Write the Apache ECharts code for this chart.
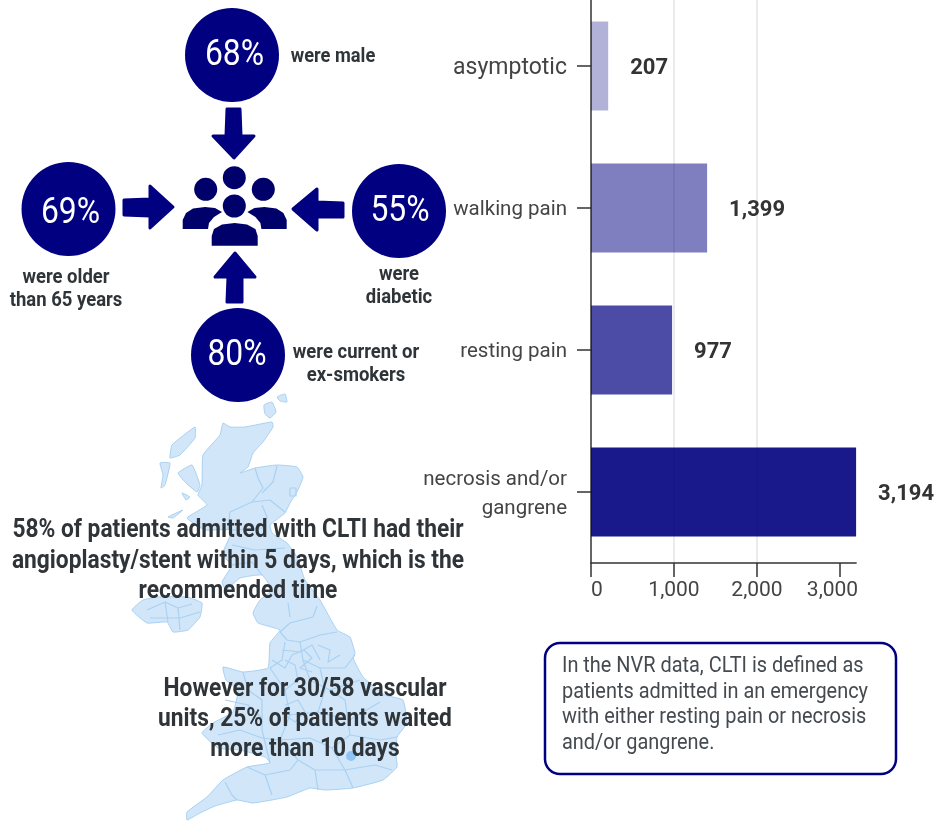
<!DOCTYPE html>
<html>
<head>
<meta charset="utf-8">
<title>Patient characteristics</title>
<script src="https://cdn.jsdelivr.net/npm/echarts@6/dist/echarts.min.js"></script>
<style>
  html, body { margin: 0; padding: 0; background: #fff; }
  #chart { width: 937px; height: 821px; }
</style>
</head>
<body>
<div id="chart"></div>
<script>
// chart values
const categories = ['asymptotic', 'walking pain', 'resting pain', 'necrosis and/or\ngangrene'];
const patientCounts = [207, 1399, 977, 3194];
const tickValues = [0, 1000, 2000, 3000];

const statPercents = ['68%', '69%', '55%', '80%'];

const NAVY = '#000080';
const INK = '#2f3438';
const FONT = 'Roboto, sans-serif';
const barColors = ['rgba(0,0,128,0.3)', 'rgba(0,0,128,0.5)', 'rgba(0,0,128,0.7)', 'rgba(0,0,128,0.9)'];

const fmt = (v) => v.toLocaleString('en-GB');

// text helper, squeezed sideways because Roboto Condensed is not available
function txt(text, x, y, size, weight, color, squeeze, align, lineHeight) {
    return {
        type: 'text', x: x, y: y, scaleX: squeeze, z: 20,
        style: {
            text: text, x: 0, y: 0, fill: color, font: weight + ' ' + size + 'px ' + FONT,
            align: align || 'center', verticalAlign: 'middle', lineHeight: lineHeight
        }
    };
}

function disc(cx, cy) {
    return { type: 'circle', z: 10, shape: { cx: cx, cy: cy, r: 47 }, style: { fill: NAVY } };
}

function arrow(points) {
    return {
        type: 'polygon', z: 10, shape: { points: points },
        style: { fill: NAVY, stroke: NAVY, lineWidth: 3, lineJoin: 'round' }
    };
}

function head(cx, cy) {
    return { type: 'circle', z: 10, shape: { cx: cx, cy: cy, r: 11.5 }, style: { fill: '#00006a' } };
}

function body(points) {
    return { type: 'polygon', z: 10, shape: { points: points }, style: { fill: '#00006a' } };
}

// uk map backdrop, traced by hand
const MAP_FILL = '#d2e6f9';
const MAP_LINE = '#a9d1f2';
function land(points) {
    return {
        type: 'polygon', z: 1, shape: { points: points, smooth: 0.12 },
        style: { fill: MAP_FILL, stroke: MAP_LINE, lineWidth: 1, lineJoin: 'round' }
    };
}
function border(points) {
    return {
        type: 'polyline', z: 2, shape: { points: points },
        style: { fill: null, stroke: MAP_LINE, lineWidth: 1.2, lineJoin: 'round' }
    };
}

const mapShapes = [
    land([[223, 423], [230, 427], [245, 427], [272, 422], [273, 427], [263, 442], [253, 453], [248, 467], [240, 473],
        [255, 468], [277, 465], [297, 467], [303, 477], [298, 490], [290, 503], [285, 513], [270, 525], [272, 533],
        [287, 543], [297, 557], [305, 580], [320, 600], [337, 630], [350, 637], [355, 653], [353, 658], [363, 677],
        [385, 695], [403, 700], [407, 723], [397, 737], [396, 755], [397, 767], [383, 780], [353, 788], [325, 790],
        [310, 788], [287, 797], [253, 803], [237, 800], [215, 806], [200, 813], [187, 820], [187, 812], [207, 797],
        [223, 780], [247, 767], [270, 763], [265, 757], [240, 750], [218, 748], [202, 733], [213, 723], [233, 712],
        [238, 690], [226, 680], [223, 667], [243, 672], [268, 668], [270, 643], [280, 630], [258, 623], [253, 613],
        [260, 600], [272, 590], [262, 575], [240, 578], [226, 590], [222, 582], [232, 565], [222, 555], [232, 530],
        [205, 530], [187, 518], [207, 505], [198, 495], [202, 485], [203, 455], [220, 435]]),
    land([[132, 610], [143, 600], [157, 597], [187, 597], [202, 603], [200, 617], [188, 630], [173, 632], [167, 622], [147, 623]]),
    land([[195, 427], [172, 445], [170, 458], [180, 455], [195, 438]]),
    land([[160, 463], [170, 463], [165, 485], [161, 488], [163, 475]]),
    land([[178, 473], [192, 465], [200, 485], [197, 492], [185, 482]]),
    land([[182, 493], [190, 497], [186, 500]]),
    land([[168, 517], [183, 510], [173, 518]]),
    land([[264, 405], [272, 402], [276, 412], [270, 418], [265, 414]]),
    land([[277, 397], [285, 394], [287, 402], [280, 401]]),
    // scotland
    border([[255, 468], [258, 478], [263, 488], [252, 502], [230, 512], [228, 530]]),
    border([[277, 466], [273, 482], [262, 493]]),
    border([[252, 502], [270, 500], [285, 512]]),
    border([[262, 505], [267, 517], [262, 528], [232, 530]]),
    border([[290, 488], [296, 488], [296, 496], [290, 496], [290, 488]]),
    border([[232, 545], [255, 550], [285, 548]]),
    border([[232, 565], [252, 562], [262, 575]]),
    // northern ireland
    border([[147, 610], [165, 602], [178, 608], [192, 604]]),
    border([[165, 602], [168, 622]]),
    border([[178, 608], [180, 630]]),
    border([[150, 618], [180, 618], [200, 612]]),
    // north england
    border([[280, 632], [290, 623], [313, 617], [317, 606]]),
    border([[290, 617], [288, 603]]),
    border([[280, 632], [287, 640], [300, 642], [320, 635], [337, 632]]),
    border([[300, 642], [303, 660], [320, 668], [345, 668], [355, 655]]),
    border([[285, 642], [282, 660], [270, 668]]),
    border([[282, 650], [300, 652], [312, 645], [320, 660]]),
    border([[285, 660], [295, 665], [298, 680], [285, 690], [270, 668]]),
    border([[303, 660], [310, 680], [330, 690], [360, 680]]),
    border([[320, 668], [325, 690], [318, 712]]),
    border([[272, 660], [285, 668], [292, 655], [304, 650], [312, 658], [300, 668], [312, 672]]),
    border([[318, 645], [330, 650], [328, 662], [340, 655]]),
    // wales and midlands
    border([[243, 672], [248, 690], [262, 700], [262, 730], [270, 763]]),
    border([[225, 700], [248, 705], [262, 718]]),
    border([[218, 735], [240, 730], [262, 738]]),
    border([[285, 690], [290, 715], [280, 740], [298, 760]]),
    border([[330, 690], [345, 700], [350, 735], [332, 748], [345, 770], [353, 788]]),
    border([[290, 715], [318, 712], [350, 720], [380, 702]]),
    border([[262, 738], [280, 740], [310, 738], [332, 748]]),
    border([[350, 735], [380, 740], [397, 737]]),
    border([[345, 770], [375, 765], [392, 770]]),
    border([[285, 705], [298, 700], [305, 712], [295, 722], [285, 715]]),
    // south west and south
    border([[247, 767], [265, 775], [290, 770], [298, 760], [315, 770], [345, 770]]),
    border([[225, 782], [232, 795], [237, 800]]),
    border([[265, 775], [272, 795]]),
    border([[315, 770], [318, 790]])
];

// the small dense patch over london
const londonPatch = {
    type: 'circle', z: 2, shape: { cx: 351, cy: 756, r: 5 }, style: { fill: '#8fc4f4' }
};

const people = [
    head(234.3, 177.7), head(205.7, 189.3), head(263.3, 189.3), head(234.3, 206),
    body([[182.7, 229], [182.7, 220], [186, 213], [193, 208.5], [205, 207], [215, 208], [222, 212], [214, 217], [209, 223], [208, 229]]),
    body([[286.7, 229], [286.7, 220], [283.4, 213], [276.4, 208.5], [264.4, 207], [254.4, 208], [247.4, 212], [255.4, 217], [260.4, 223], [261.4, 229]]),
    body([[211.7, 245.7], [211.7, 236], [214, 229], [222, 224.5], [234.7, 223], [247, 224.5], [255.4, 229], [257.7, 236], [257.7, 245.7]])
];

const arrows = [
    arrow([[227, 109], [240, 109], [241, 136], [254, 136], [234, 158], [213, 136], [226, 136]]),
    arrow([[124, 200], [150, 199], [150, 186], [173, 207], [150, 228], [150, 216], [124, 215]]),
    arrow([[343, 203], [317, 202], [317, 189], [293, 209], [317, 230], [317, 217], [343, 217]]),
    arrow([[227, 302], [242, 302], [242, 277], [255, 277], [235, 253], [215, 277], [228, 277]])
];

const discs = [disc(232, 55), disc(68.5, 209), disc(399, 211), disc(238, 355)];

const texts = [
    // title, cut by the top edge in the source
    txt('Patient characteristics', 420, -7, 28, 'bold', INK, 0.86),
    txt(statPercents[0], 234.5, 56, 36, 'normal', '#fff', 0.885),
    txt(statPercents[1], 70.5, 214, 36, 'normal', '#fff', 0.885),
    txt(statPercents[2], 400, 212, 36, 'normal', '#fff', 0.885),
    txt(statPercents[3], 237, 356, 36, 'normal', '#fff', 0.885),
    txt('were male', 333, 57, 21, 'bold', INK, 0.87),
    txt('were older\nthan 65 years', 66, 289, 21, 'bold', INK, 0.88, 'center', 23.5),
    txt('were\ndiabetic', 399, 286, 21, 'bold', INK, 0.88, 'center', 23.5),
    txt('were current or\nex-smokers', 356, 364, 21, 'bold', INK, 0.88, 'center', 23.5),
    txt('58% of patients admitted with CLTI had their\nangioplasty/stent within 5 days, which is the\nrecommended time',
        238, 561, 26, 'bold', INK, 0.875, 'center', 30.5),
    txt('However for 30/58 vascular\nunits, 25% of patients waited\nmore than 10 days',
        305, 719, 26, 'bold', INK, 0.875, 'center', 30),
    txt('In the NVR data, CLTI is defined as\npatients admitted in an emergency\nwith either resting pain or necrosis\nand/or gangrene.',
        562, 705, 22, 'normal', '#444a50', 0.905, 'left', 25.7)
];

const callout = {
    type: 'rect', z: 5, shape: { x: 545, y: 643, width: 351, height: 131, r: 15 },
    style: { fill: '#fff', stroke: NAVY, lineWidth: 2.5 }
};

const chart = echarts.init(document.getElementById('chart'));

chart.setOption({
    animation: false,
    backgroundColor: '#fff',
    textStyle: { fontFamily: FONT },
    grid: { left: 591, top: -5, width: 265.1, height: 568, containLabel: false, outerBoundsMode: 'none' },
    xAxis: {
        type: 'value',
        min: 0,
        max: 3194,
        axisLine: { show: true, lineStyle: { color: '#333', width: 1.5 } },
        axisTick: { show: true, customValues: tickValues, length: 14, lineStyle: { color: '#333', width: 1.5 } },
        splitLine: { show: true, showMinLine: false, showMaxLine: false, lineStyle: { color: '#e4e4e4', width: 1.5 } },
        axisLabel: {
            customValues: tickValues,
            margin: 17,
            color: '#444',
            fontSize: 21,
            hideOverlap: false,
            formatter: (v) => v === 0 ? '{first|0}' : v === 3000 ? '{last|3,000}' : '{mid|' + fmt(v) + '}',
            rich: {
                first: { fontSize: 21, color: '#444', padding: [0, 0, 0, 12] },
                mid: { fontSize: 21, color: '#444' },
                last: { fontSize: 21, color: '#444', padding: [0, 15, 0, 0] }
            }
        }
    },
    yAxis: {
        type: 'category',
        inverse: true,
        data: categories,
        axisLine: { show: true, lineStyle: { color: '#333', width: 1.5 } },
        axisTick: { show: true, alignWithLabel: true, length: 14, lineStyle: { color: '#333', width: 1.5 } },
        axisLabel: {
            margin: 24,
            color: '#444',
            fontSize: 20.5,
            lineHeight: 29,
            align: 'right',
            padding: [4, 0, 0, 0],
            // the first label runs wider than the rest in the source
            formatter: (v) => v === categories[0] ? '{wide|' + v + '}' : v,
            rich: { wide: { fontSize: 23, color: '#444', lineHeight: 29 } }
        }
    },
    series: [{
        type: 'bar',
        barWidth: 89,
        data: patientCounts.map((v, i) => ({ value: v, itemStyle: { color: barColors[i] } })),
        label: {
            show: true,
            position: 'right',
            distance: 22,
            offset: [0, 2],
            color: '#333',
            fontSize: 22,
            fontWeight: 'bold',
            formatter: (p) => fmt(p.value)
        },
        z: 3
    }],
    graphic: { elements: [...mapShapes, londonPatch, ...arrows, ...people, ...discs, callout, ...texts] }
});
</script>
</body>
</html>
